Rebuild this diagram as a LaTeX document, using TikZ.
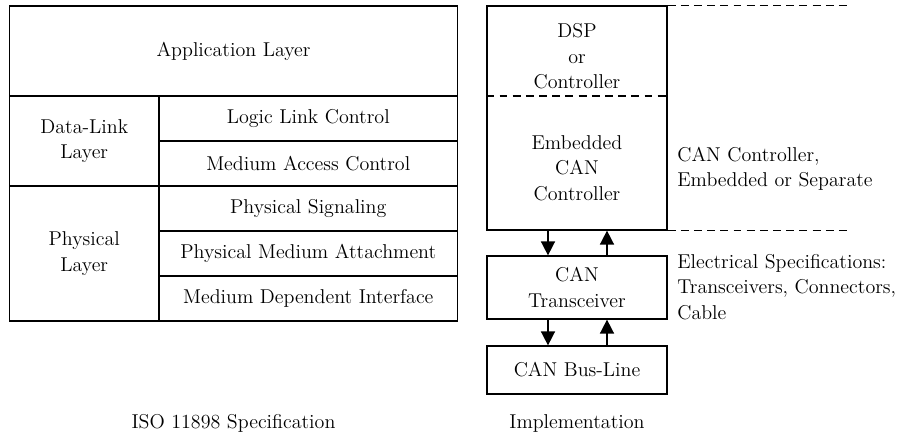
\documentclass[tikz,border=0pt]{standalone}
\usepackage{amsmath}
\usepackage{color}
\usepackage{tikz}
\usetikzlibrary{shapes, arrows.meta}

\tikzset{
	box/.style={rectangle, draw, line width=0.7pt, inner sep=0pt, align=center},
	txt/.style={align=center, inner sep=0pt},
	note/.style={align=left, anchor=west, inner sep=0pt},
	arr/.style={line width=0.9pt, -{Triangle[length=0.28cm, width=0.28cm]}},
	sep/.style={line width=0.7pt, dash pattern=on 4.5pt off 3pt}
}

\begin{document}
\begin{tikzpicture}[font=\fontsize{11.4}{14.5}\selectfont]
		\useasboundingbox (0,0) rectangle (18,-8.86);
		% ISO stack
		\node at (4.67,-1.02) [box, minimum width=8.96cm, minimum height=1.8cm] (app) {Application Layer};
		\node at (1.685,-2.82) [box, minimum width=2.99cm, minimum height=1.8cm] (dll) {Data-Link\\Layer};
		\node at (1.685,-5.07) [box, minimum width=2.99cm, minimum height=2.7cm] (phy) {Physical\\Layer};
		\node at (6.165,-2.37) [box, minimum width=5.97cm, minimum height=0.9cm] (llc) {Logic Link Control};
		\node at (6.165,-3.27) [box, minimum width=5.97cm, minimum height=0.9cm] (mac) {Medium Access Control};
		\node at (6.165,-4.17) [box, minimum width=5.97cm, minimum height=0.9cm] (pls) {Physical Signaling};
		\node at (6.165,-5.07) [box, minimum width=5.97cm, minimum height=0.9cm] (pma) {Physical Medium Attachment};
		\node at (6.165,-5.97) [box, minimum width=5.97cm, minimum height=0.9cm] (mdi) {Medium Dependent Interface};
		\node at (4.67,-8.46) [txt] (iso) {ISO 11898 Specification};

		% implementation
		\node at (11.54,-2.36) [box, minimum width=3.6cm, minimum height=4.48cm] (ctrl) {};
		\node at (11.54,-1.13) [txt] (dsp) {DSP\\or\\Controller};
		\node at (11.54,-3.36) [txt] (emb) {Embedded\\CAN\\Controller};
		\draw[sep] (ctrl.west |- 0,-1.92) -- (ctrl.east |- 0,-1.92);
		\draw[sep] (ctrl.north east) -- ++(3.6,0);
		\draw[sep] (ctrl.south east) -- ++(3.6,0);
		\node at (11.54,-5.75) [box, minimum width=3.6cm, minimum height=1.26cm] (trx) {CAN\\Transceiver};
		\node at (11.54,-7.4) [box, minimum width=3.6cm, minimum height=0.96cm] (bus) {CAN Bus-Line};
		\draw[arr] ([xshift=-0.58cm]ctrl.south) -- ([xshift=-0.58cm]trx.north);
		\draw[arr] ([xshift=0.6cm]trx.north) -- ([xshift=0.6cm]ctrl.south);
		\draw[arr] ([xshift=-0.58cm]trx.south) -- ([xshift=-0.58cm]bus.north);
		\draw[arr] ([xshift=0.6cm]bus.north) -- ([xshift=0.6cm]trx.south);
		\node at (13.54,-3.38) [note] (ctrlnote) {CAN Controller,\\Embedded or Separate};
		\node at (13.54,-5.74) [note] (elnote) {Electrical Specifications:\\Transceivers, Connectors,\\Cable};
		\node at (11.54,-8.46) [txt] (impl) {Implementation};
		\end{tikzpicture}
\end{document}
